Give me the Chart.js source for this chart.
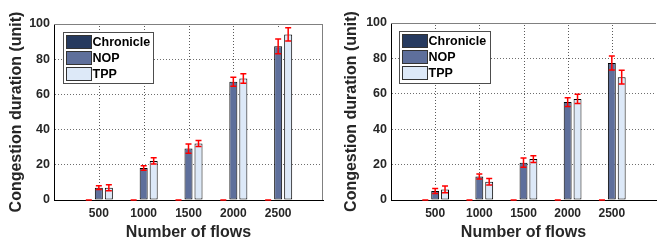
<!DOCTYPE html>
<html>
<head>
<meta charset="utf-8">
<script src="https://cdn.jsdelivr.net/npm/chart.js@4.4.0/dist/chart.umd.min.js"></script>
<style>
  body { margin: 0; background: #fff; }
  .box { position: absolute; top: 0; width: 331px; height: 243px; }
</style>
</head>
<body>
<div class="box" style="left:0"><canvas id="chart1" width="331" height="243"></canvas></div>
<div class="box" style="left:331px"><canvas id="chart2" width="331" height="243"></canvas></div>
<script>
// categories
var flows = [500, 1000, 1500, 2000, 2500];
var seriesNames = ["Chronicle", "NOP", "TPP"];
var seriesColors = ["#263a5f", "#5e6f9b", "#dde9f8"];

// left chart
var chronicleA = [0, 0, 0, 0, 0];
var chronicleErrA = [0, 0, 0, 0, 0];
var nopA = [7, 18.2, 29.2, 67.2, 87.3];
var nopErrA = [1.1, 1.3, 2.6, 2.6, 4.2];
var tppA = [7, 22.2, 32.1, 69.1, 94.1];
var tppErrA = [1.7, 1.8, 1.7, 2.7, 3.8];

// right chart
var chronicleB = [0, 0, 0, 0, 0];
var chronicleErrB = [0, 0, 0, 0, 0];
var nopB = [5.1, 13.3, 21.1, 55.3, 77.4];
var nopErrB = [1.4, 1.4, 2.6, 2.5, 4.0];
var tppB = [6.0, 10.3, 23.1, 57.1, 69.4];
var tppErrB = [1.9, 1.8, 1.9, 2.6, 3.9];

var FONT = "'Liberation Sans', Arial, sans-serif";
var TEXT = "#262626";

function points(vals) {
  return vals.map(function (v, i) { return { x: flows[i], y: v }; });
}

// dotted vertical grid at the x ticks, drawn as 1px dots down to the bars
var xGrid = {
  id: "xGrid",
  afterDraw: function (chart) {
    var ctx = chart.ctx, a = chart.chartArea, x = chart.scales.x, y = chart.scales.y;
    ctx.save();
    ctx.fillStyle = "#5a5a5a";
    flows.forEach(function (f, i) {
      var px = Math.round(x.getPixelForValue(f));
      var tallest = 0;
      chart.data.datasets.forEach(function (ds) {
        tallest = Math.max(tallest, ds.data[i].y + ds.errors[i]);
      });
      var stop = y.getPixelForValue(tallest) - 1;
      for (var yy = Math.ceil(a.top) + 2; yy < stop; yy += 3) {
        ctx.fillRect(px, yy, 1, 1);
      }
    });
    ctx.restore();
  }
};

// red error bars drawn through the y scale
var errorBars = {
  id: "errorBars",
  afterDatasetsDraw: function (chart) {
    var ctx = chart.ctx, y = chart.scales.y;
    chart.data.datasets.forEach(function (ds, di) {
      var meta = chart.getDatasetMeta(di);
      meta.data.forEach(function (bar, i) {
        var v = ds.data[i].y, e = ds.errors[i];
        var top = y.getPixelForValue(v + e), bot = y.getPixelForValue(v - e);
        ctx.save();
        ctx.strokeStyle = "#ff0000";
        ctx.lineWidth = 1.5;
        ctx.beginPath();
        ctx.moveTo(bar.x, top); ctx.lineTo(bar.x, bot);
        ctx.moveTo(bar.x - 3, top); ctx.lineTo(bar.x + 3, top);
        ctx.moveTo(bar.x - 3, bot); ctx.lineTo(bar.x + 3, bot);
        ctx.stroke();
        ctx.restore();
      });
    });
  }
};

// grey top/right frame and boxed legend inside the plot
var frameLegend = {
  id: "frameLegend",
  afterDraw: function (chart, args, opts) {
    var ctx = chart.ctx, a = chart.chartArea;
    ctx.save();
    ctx.strokeStyle = "#808080";
    ctx.lineWidth = 1;
    ctx.beginPath();
    ctx.moveTo(a.left, a.top + 0.5); ctx.lineTo(a.right, a.top + 0.5);
    if (opts.right) { ctx.moveTo(a.right - 0.5, a.top); ctx.lineTo(a.right - 0.5, a.bottom); }
    ctx.stroke();

    var bx = Math.round(a.left + opts.x) + 0.5, by = Math.round(a.top + opts.y) + 0.5;
    ctx.fillStyle = "#fff";
    ctx.fillRect(bx, by, opts.w, opts.h);
    ctx.strokeStyle = "#4d4d4d";
    ctx.strokeRect(bx, by, opts.w, opts.h);
    ctx.font = "bold 12.5px " + FONT;
    ctx.textBaseline = "middle";
    chart.data.datasets.forEach(function (ds, i) {
      var sy = by + 3 + i * 16;
      ctx.fillStyle = ds.backgroundColor;
      ctx.fillRect(bx + 3, sy, 25, 13);
      ctx.strokeStyle = "#333";
      ctx.strokeRect(bx + 3, sy, 25, 13);
      ctx.fillStyle = "#000";
      ctx.fillText(ds.label, bx + 29, sy + 7);
    });
    ctx.restore();
  }
};

function makeChart(id, series, yWidth, pad, legendPos, titlePad) {
  var datasets = series.map(function (s, i) {
    return {
      label: seriesNames[i],
      data: points(s[0]),
      errors: s[1],
      backgroundColor: seriesColors[i],
      borderColor: "#000",
      borderWidth: 1,
      borderSkipped: false,
      categoryPercentage: 0.67,
      barPercentage: 0.8
    };
  });
  return new Chart(document.getElementById(id).getContext("2d"), {
    type: "bar",
    data: { datasets: datasets },
    plugins: [errorBars, xGrid, frameLegend],
    options: {
      responsive: false,
      animation: false,
      layout: { padding: pad },
      plugins: {
        legend: { display: false },
        tooltip: { enabled: false },
        frameLegend: legendPos
      },
      scales: {
        x: {
          type: "linear",
          offset: false,
          min: 0, max: 3000,
          afterFit: function (s) { s.height = 43; },
          ticks: {
            stepSize: 500, autoSkip: false, maxRotation: 0, padding: 6,
            color: TEXT, font: { family: FONT, size: 12, weight: "bold" },
            callback: function (v) { return (v === 0 || v === 3000) ? "" : v; }
          },
          grid: { display: false, drawTicks: false },
          border: { display: true, color: "#000", width: 1 },
          title: {
            display: true, text: "Number of flows", color: TEXT,
            font: { family: FONT, size: 16, weight: "bold" }, padding: { top: 0, bottom: 1 }
          }
        },
        y: {
          min: 0, max: 100,
          afterFit: function (s) { s.width = yWidth; },
          ticks: {
            stepSize: 20, padding: 4,
            color: TEXT, font: { family: FONT, size: 12.5, weight: "bold" }
          },
          grid: {
            drawTicks: false,
            color: function (c) { return (c.tick && (c.tick.value === 0 || c.tick.value === 100)) ? "rgba(0,0,0,0)" : "#6e6e6e"; }
          },
          border: { display: true, color: "#000", width: 1, dash: [1, 2] },
          title: {
            display: true, text: "Congestion duration (unit)", color: TEXT,
            font: { family: FONT, size: 16, weight: "bold" }, padding: { top: titlePad, bottom: 0 }
          }
        }
      }
    }
  });
}

makeChart("chart1",
  [[chronicleA, chronicleErrA], [nopA, nopErrA], [tppA, tppErrA]],
  54, { top: 24, right: 8, left: 0, bottom: 0 },
  { x: 9, y: 8, w: 90, h: 51, right: true }, 7);

makeChart("chart2",
  [[chronicleB, chronicleErrB], [nopB, nopErrB], [tppB, tppErrB]],
  60, { top: 23, right: 0, left: 0, bottom: 0 },
  { x: 8, y: 8, w: 91, h: 52, right: false }, 11);
</script>
</body>
</html>
